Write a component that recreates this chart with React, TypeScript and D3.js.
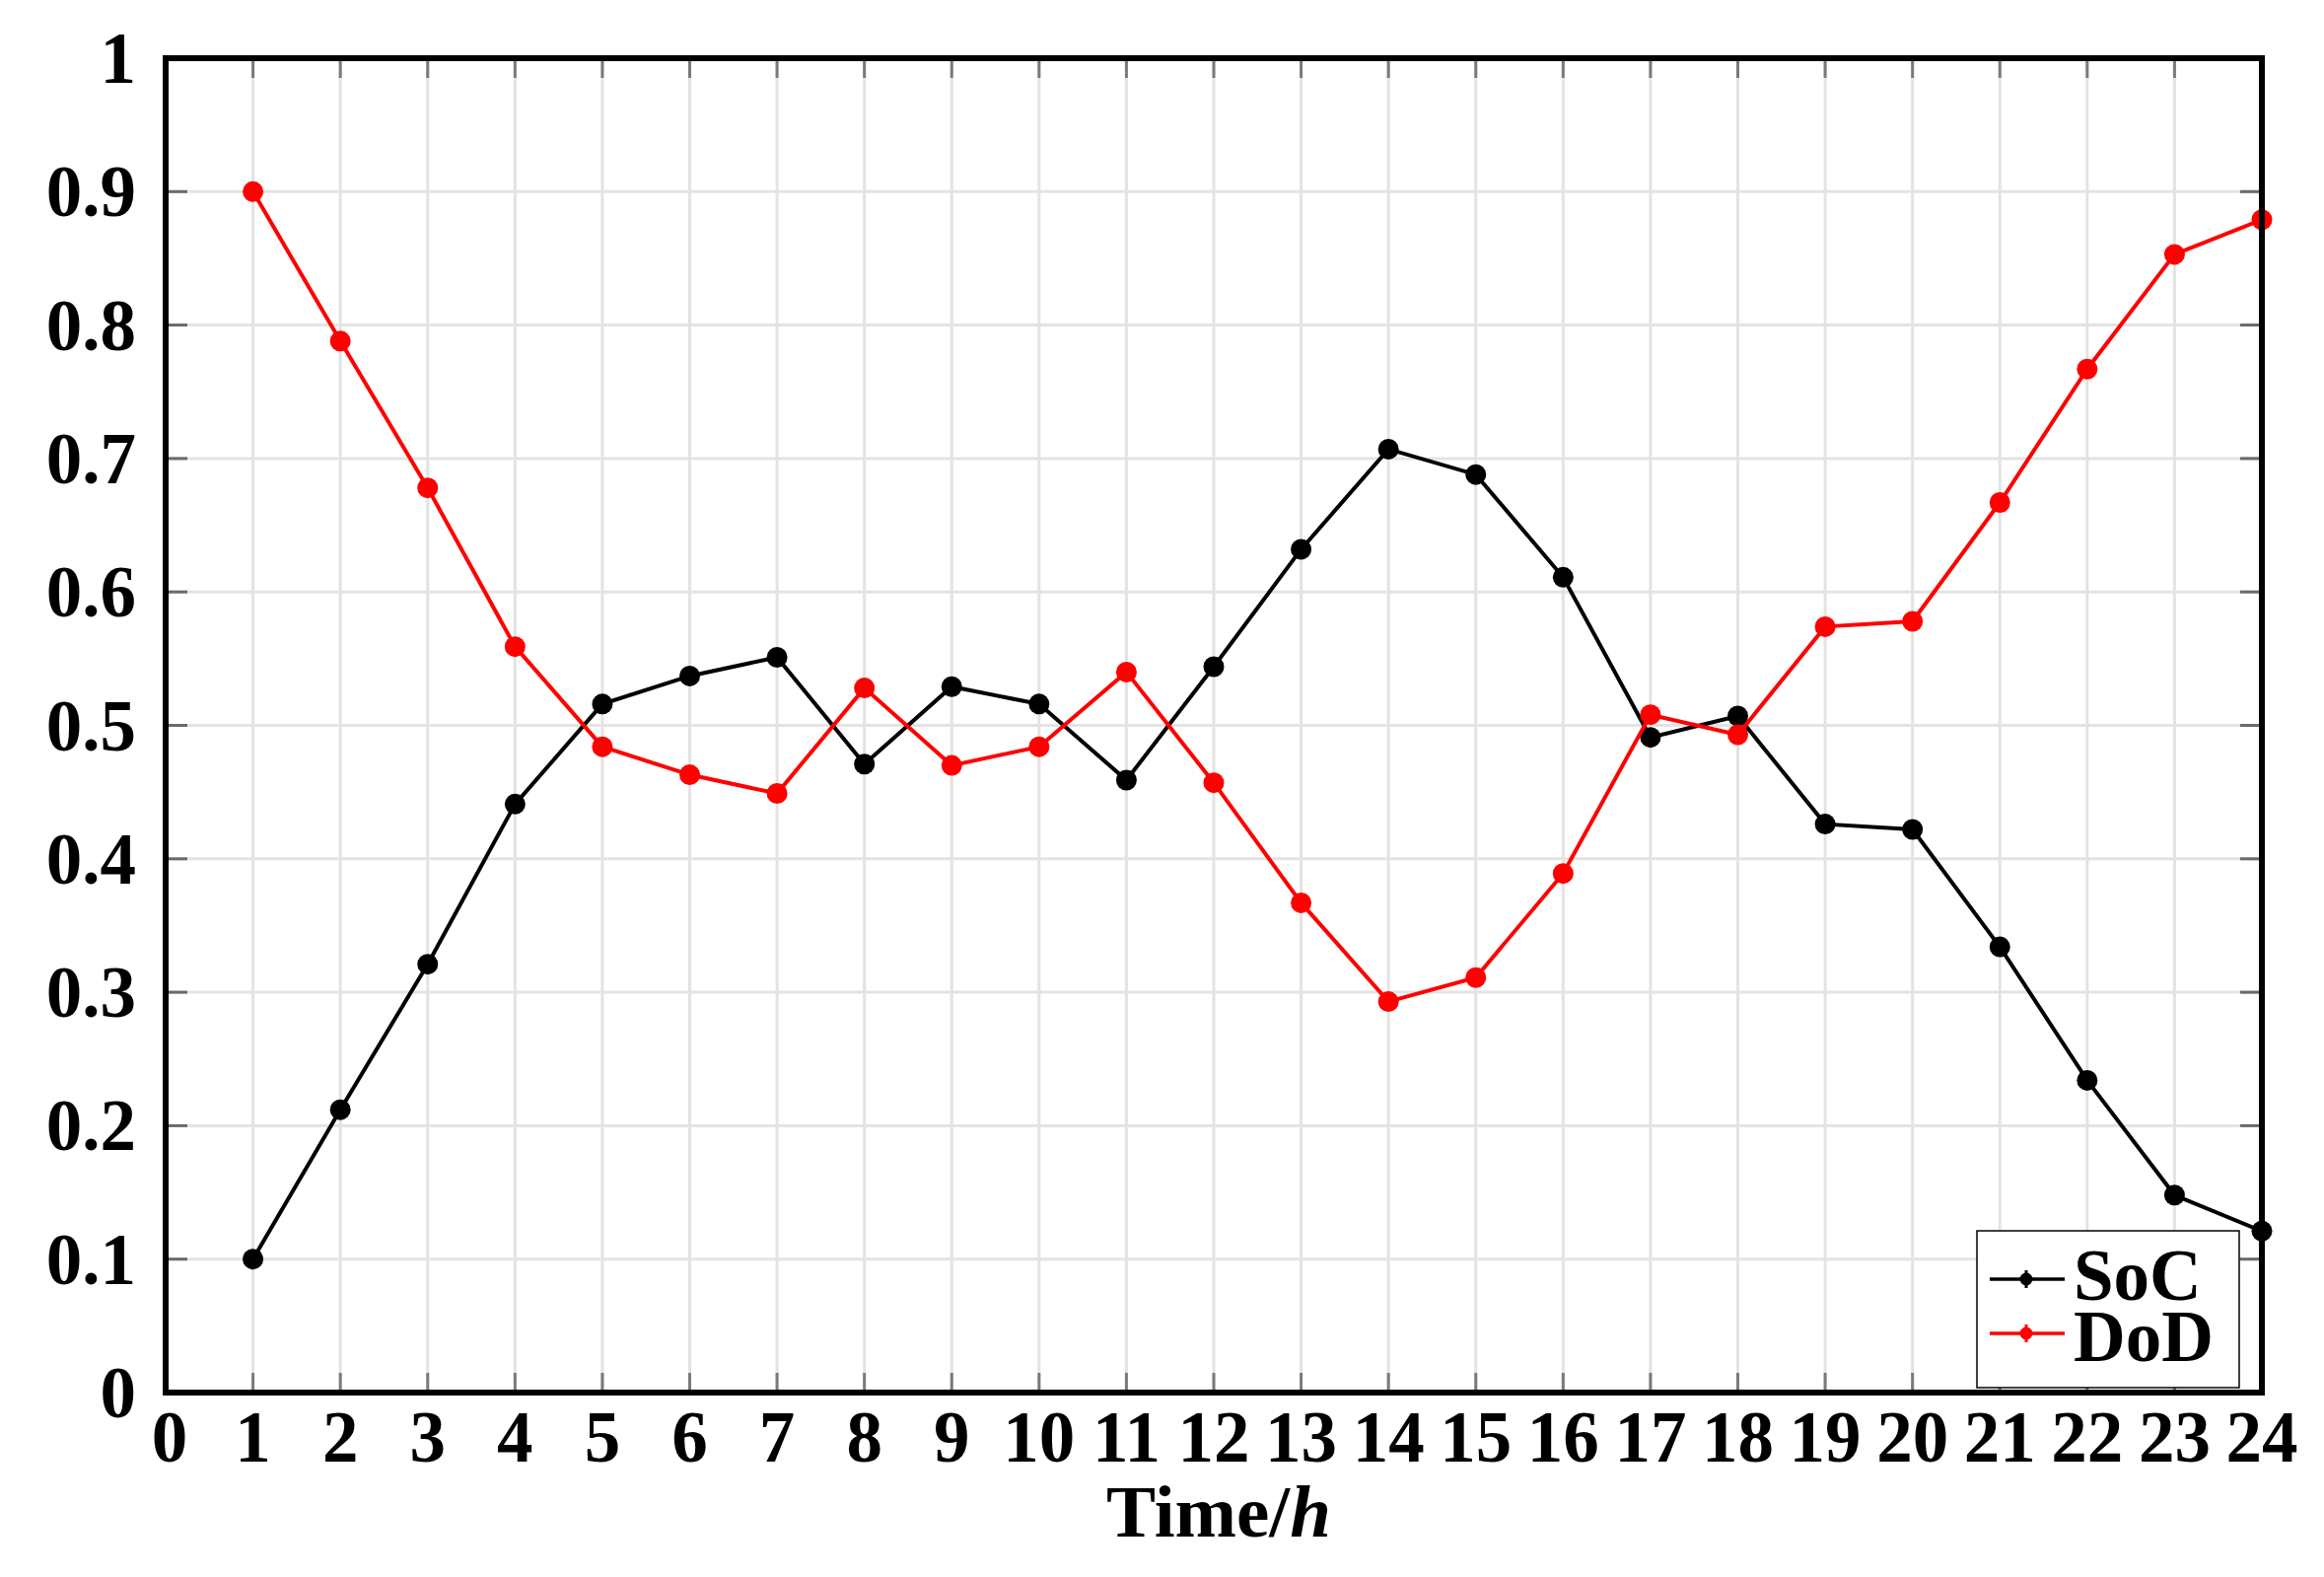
import React from "react";
import * as d3 from "d3";

const hours = [1, 2, 3, 4, 5, 6, 7, 8, 9, 10, 11, 12, 13, 14, 15, 16, 17, 18, 19, 20, 21, 22, 23, 24];
const socValues = [0.100, 0.212, 0.321, 0.441, 0.516, 0.537, 0.551, 0.471, 0.529, 0.516, 0.459, 0.544, 0.632, 0.707, 0.688, 0.611, 0.491, 0.507, 0.426, 0.422, 0.334, 0.234, 0.148, 0.121];
const dodValues = [0.900, 0.788, 0.678, 0.559, 0.484, 0.463, 0.449, 0.528, 0.470, 0.484, 0.540, 0.457, 0.367, 0.293, 0.311, 0.389, 0.508, 0.493, 0.574, 0.578, 0.667, 0.767, 0.853, 0.879];
const xTicks = d3.range(0, 25);
const yTicks = [0, 0.1, 0.2, 0.3, 0.4, 0.5, 0.6, 0.7, 0.8, 0.9, 1];
const seriesNames = ["SoC", "DoD"];
const seriesColors = ["#000000", "#ff0000"];

const W = 2357;
const H = 1599;
const L = 168, R = 2294, T = 59, B = 1412;
const FONT = "'Liberation Serif', 'Times New Roman', serif";

export default function App() {
  const x = d3.scaleLinear().domain([0, 24]).range([L, R]);
  const y = d3.scaleLinear().domain([0, 1]).range([B, T]);
  const line = d3.line<number>().x((_, i) => x(hours[i])).y((d) => y(d));
  const series = [socValues, dodValues];
  const yFmt = (v: number) => (v === 0 || v === 1 ? String(v) : d3.format(".1f")(v));

  return (
    <svg width={W} height={H} style={{ position: "absolute", left: 0, top: 0, background: "#fff" }}>
      <rect x={0} y={0} width={W} height={H} fill="#fff" />
      {xTicks.map((t) => (
        <line key={"gx" + t} x1={x(t)} x2={x(t)} y1={T} y2={B} stroke="#e3e3e3" strokeWidth={3} />
      ))}
      {yTicks.map((t) => (
        <line key={"gy" + t} x1={L} x2={R} y1={y(t)} y2={y(t)} stroke="#e3e3e3" strokeWidth={3} />
      ))}
      {xTicks.map((t) => (
        <g key={"tx" + t}>
          <line x1={x(t)} x2={x(t)} y1={B} y2={B - 20} stroke="#7a7a7a" strokeWidth={3} />
          <line x1={x(t)} x2={x(t)} y1={T} y2={T + 20} stroke="#7a7a7a" strokeWidth={3} />
        </g>
      ))}
      {yTicks.map((t) => (
        <g key={"ty" + t}>
          <line x1={L} x2={L + 22} y1={y(t)} y2={y(t)} stroke="#6a6a6a" strokeWidth={3} />
          <line x1={R} x2={R - 22} y1={y(t)} y2={y(t)} stroke="#6a6a6a" strokeWidth={3} />
        </g>
      ))}
      {series.map((vals, si) => (
        <g key={"s" + si}>
          <path d={line(vals) || ""} fill="none" stroke={seriesColors[si]} strokeWidth={4} />
          {vals.map((v, i) => (
            <circle key={i} cx={x(hours[i])} cy={y(v)} r={10.5} fill={seriesColors[si]} />
          ))}
        </g>
      ))}
      <rect x={L} y={T} width={R - L} height={B - T} fill="none" stroke="#000" strokeWidth={6} />
      {yTicks.map((t) => (
        <text key={"ly" + t} x={138} y={y(t) + 25} textAnchor="end" fontFamily={FONT} fontWeight="bold" fontSize={73} fill="#000">
          {yFmt(t)}
        </text>
      ))}
      {xTicks.map((t) => (
        <text key={"lx" + t} x={x(t) + (t === 0 ? 4 : 0)} y={1482} textAnchor="middle" fontFamily={FONT} fontWeight="bold" fontSize={73} fill="#000">
          {t}
        </text>
      ))}
      <text x={1236} y={1558} textAnchor="middle" fontFamily={FONT} fontWeight="bold" fontSize={75} fill="#000">
        Time/<tspan fontStyle="italic">h</tspan>
      </text>
      <rect x={2005} y={1248} width={266} height={159} fill="#fff" stroke="#000" strokeWidth={1.5} />
      {seriesNames.map((name, i) => {
        const ly = 1297 + i * 55;
        return (
          <g key={"leg" + i}>
            <line x1={2018} x2={2094} y1={ly} y2={ly} stroke={seriesColors[i]} strokeWidth={3.5} />
            <circle cx={2055} cy={ly} r={6.5} fill={seriesColors[i]} />
            <line x1={2055} x2={2055} y1={ly - 9} y2={ly + 9} stroke={seriesColors[i]} strokeWidth={3} />
            <text x={2103} y={1318 + i * 62} fontFamily={FONT} fontWeight="bold" fontSize={73} fill="#000">
              {name}
            </text>
          </g>
        );
      })}
    </svg>
  );
}
